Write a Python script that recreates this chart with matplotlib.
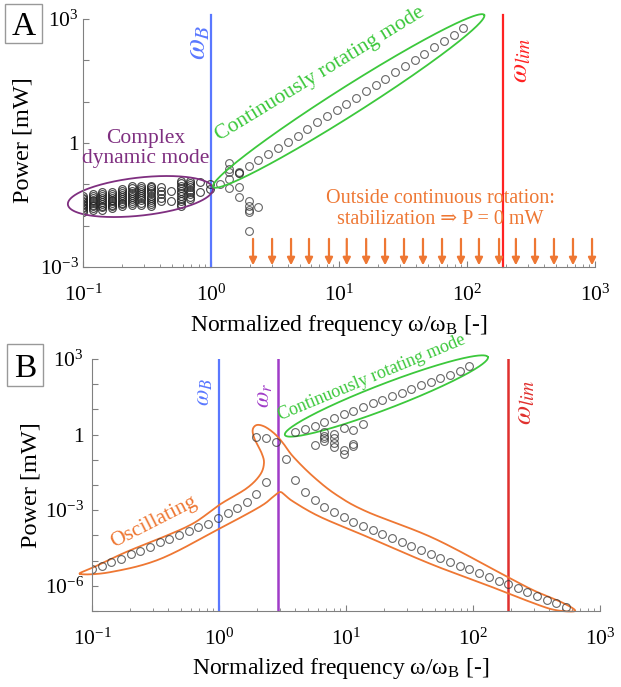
import numpy as np
import matplotlib
matplotlib.use('Agg')
import matplotlib.pyplot as plt
from matplotlib.patches import Rectangle
from matplotlib.ticker import FixedLocator, FuncFormatter, LogLocator, NullLocator, NullFormatter

plt.rcParams['font.family'] = ['Liberation Serif', 'DejaVu Serif']
plt.rcParams['mathtext.fontset'] = 'stix'

# frequency grid omega/omega_B (log spaced)
freq = [0.100, 0.119, 0.142, 0.169, 0.202, 0.240, 0.286, 0.341, 0.407, 0.485,
        0.578, 0.689, 0.821, 0.979, 1.17, 1.39, 1.66, 1.97, 2.35, 2.81,
        3.34, 3.98, 4.75, 5.66, 6.74, 8.04, 9.58, 11.4, 13.6, 16.2,
        19.3, 23.0, 27.4, 32.7, 39.0, 46.4, 55.4, 65.9, 78.6, 93.7,
        112, 133, 159, 189, 225, 268, 320, 381, 454, 542]

w_B = 1.0
w_r = 2.9
w_lim = 190.0

# ---- panel A : log10(P [mW]) ----
# complex dynamic mode, one list per frequency (index 0..13)
logp_complex = [
    [-1.68, -1.63, -1.58, -1.55, -1.50, -1.47, -1.43, -1.40, -1.36, -1.33, -1.29],
    [-1.61, -1.57, -1.52, -1.49, -1.45, -1.41, -1.37, -1.33, -1.28, -1.23],
    [-1.61, -1.56, -1.52, -1.47, -1.43, -1.38, -1.33, -1.29, -1.24, -1.19],
    [-1.57, -1.53, -1.49, -1.45, -1.41, -1.37, -1.32, -1.28, -1.24, -1.19],
    [-1.53, -1.48, -1.44, -1.40, -1.35, -1.30, -1.25, -1.21, -1.16, -1.11],
    [-1.49, -1.45, -1.40, -1.35, -1.31, -1.26, -1.21, -1.16, -1.10, -1.05],
    [-1.49, -1.44, -1.39, -1.34, -1.29, -1.24, -1.19, -1.14, -1.08, -1.03],
    [-1.53, -1.48, -1.43, -1.38, -1.33, -1.28, -1.22, -1.17, -1.12, -1.07, -1.03],
    [-1.41, -1.33, -1.24, -1.15, -1.06],
    [-1.40, -1.15],
    [-1.53, -1.47, -1.41, -1.35, -1.29, -1.22, -1.16, -1.10, -1.03, -0.97, -0.91],
    [-1.35, -1.30, -1.24, -1.19, -1.13, -1.07, -1.01, -0.96, -0.91],
    [-1.18, -0.94],
    [-1.12, -0.98],
]
# continuously rotating mode, frequencies 14..39
logp_rot_a = [-1.00, -0.88, -0.72, -0.55, -0.41, -0.27, -0.13, 0.02, 0.17, 0.33,
              0.50, 0.65, 0.80, 0.95, 1.10, 1.25, 1.40, 1.56, 1.71, 1.86,
              2.01, 2.16, 2.32, 2.47, 2.62, 2.78]
# transition points just above omega_B (frequency index, log10 P)
scatter_a_idx = [15, 15, 15, 15, 16, 16, 16, 16, 17, 17, 17, 17, 17, 18]
scatter_a_logp = [-0.49, -0.64, -0.69, -1.10, -0.69, -0.73, -1.06, -1.30,
                  -1.40, -1.52, -1.62, -1.66, -2.12, -1.54]
# P = 0 arrows (outside continuous rotation)
arrow_freq = [2.13, 3.00, 4.22, 5.83, 8.35, 11.5, 16.3, 22.9, 32.2, 45.3,
              63.8, 89.7, 124, 178, 241, 340, 478, 673, 948]

# ---- panel B ----
osc_idx = list(range(0, 19)) + [17, 18, 19] + list(range(20, 50))
logp_osc = [-5.35, -5.21, -5.07, -4.94, -4.75, -4.61, -4.45, -4.27, -4.14, -3.98,
            -3.84, -3.68, -3.55, -3.32, -3.12, -2.90, -2.66, -2.36, -1.89,
            -0.08, -0.12, -0.31,
            -0.98, -1.80, -2.27, -2.60, -2.86, -3.08, -3.26, -3.46, -3.63, -3.79,
            -3.96, -4.12, -4.27, -4.42, -4.58, -4.74, -4.89, -5.04, -5.20, -5.33,
            -5.48, -5.64, -5.80, -5.94, -6.10, -6.26, -6.39, -6.56, -6.69, -6.85]
# continuously rotating mode, frequencies 21..39
logp_rot_b = [0.09, 0.22, 0.35, 0.51, 0.64, 0.81, 0.95, 1.08, 1.24, 1.37,
              1.52, 1.66, 1.81, 1.96, 2.10, 2.23, 2.37, 2.53, 2.71]
scatter_b_idx = [23, 24, 24, 24, 24, 25, 25, 25, 25, 26, 26, 26, 27, 27, 27, 28]
scatter_b_logp = [-0.41, 0.10, -0.04, -0.15, -0.25, 0.03, -0.12, -0.33, -0.48,
                  0.25, -0.62, -0.75, 0.20, -0.38, -0.44, 0.41]

# outline of the oscillating region (log10 omega, log10 P)
osc_outline_lx = [-1.094, -0.990, -0.727, -0.465, -0.202, 0.008, 0.218, 0.323, 0.354, 0.336,
                  0.283, 0.265, 0.297, 0.362, 0.441, 0.506, 0.585, 0.743, 0.927, 1.165,
                  1.685, 2.213, 2.472, 2.709, 2.803, 2.646, 2.472, 2.213, 1.685, 1.165,
                  0.795, 0.585, 0.520, 0.480, 0.428, 0.323, 0.008, -0.465, -0.858]
osc_outline_ly = [-5.53, -5.27, -4.65, -4.12, -3.52, -2.77, -2.13, -1.60, -1.14, -0.74,
                  -0.21, 0.18, 0.38, 0.31, 0.02, -0.35, -0.88, -1.67, -2.40, -3.06,
                  -4.10, -5.49, -6.17, -6.68, -7.00, -6.96, -6.68, -6.17, -5.17, -4.05,
                  -3.26, -2.66, -2.40, -2.28, -2.46, -2.86, -3.72, -4.94, -5.46]

BLUE = '#5a78ff'
RED = '#ff2222'
RED_B = '#e0302e'
PURPLE = '#7f2f80'
VIOLET = '#a03cc8'
GREEN = '#3cc83c'
ORANGE = '#ee7733'
GRAY = '#808080'
MK = dict(ls='none', marker='o', mfc='none', mec='#333333', ms=5.6, mew=0.8, alpha=0.75)

freq = np.array(freq)


def ring(ax, fx, fy, a, b, ang, **kw):
    # ellipse sized in pixels, centred on a data point
    t = np.linspace(0, 2 * np.pi, 300)
    c = np.deg2rad(ang)
    cx, cy = ax.transData.transform((fx, fy))
    dx = a * np.cos(t) * np.cos(c) - b * np.sin(t) * np.sin(c)
    dy = a * np.cos(t) * np.sin(c) + b * np.sin(t) * np.cos(c)
    pts = ax.transData.inverted().transform(np.column_stack([cx + dx, cy + dy]))
    ax.plot(pts[:, 0], pts[:, 1], clip_on=False, **kw)


def closed_spline(lx, ly, n=16):
    P = np.column_stack([lx, ly])
    N = len(P)
    t = np.linspace(0, 1, n, endpoint=False)[:, None]
    out = []
    for i in range(N):
        p0, p1, p2, p3 = P[i - 1], P[i], P[(i + 1) % N], P[(i + 2) % N]
        out.append(0.5 * (2 * p1 + (p2 - p0) * t + (2 * p0 - 5 * p1 + 4 * p2 - p3) * t ** 2
                          + (3 * p1 - p0 - 3 * p2 + p3) * t ** 3))
    out.append(P[:1])
    return np.vstack(out)


def style(ax, ylim, ypad):
    ax.set_xscale('log')
    ax.set_yscale('log')
    ax.set_xlim(0.1, 1000)
    ax.set_ylim(*ylim)
    for s in ('top', 'right'):
        ax.spines[s].set_visible(False)
    for s in ('left', 'bottom'):
        ax.spines[s].set_color(GRAY)
    ax.xaxis.set_major_locator(LogLocator(base=10, numticks=10))
    ax.xaxis.set_minor_locator(LogLocator(base=10, subs=np.arange(2, 10), numticks=20))
    ax.xaxis.set_minor_formatter(NullFormatter())
    lo, hi = int(np.log10(ylim[0])), int(np.log10(ylim[1]))
    ax.yaxis.set_major_locator(FixedLocator(10.0 ** np.arange(lo, hi + 1)))
    ax.yaxis.set_minor_locator(NullLocator())

    def ylab(v, pos):
        e = int(round(np.log10(v)))
        if e % 3:
            return ''
        return '1' if e == 0 else r'$\mathdefault{10^{%d}}$' % e
    ax.yaxis.set_major_formatter(FuncFormatter(ylab))
    ax.tick_params(which='both', direction='in', color=GRAY, labelsize=15.5)
    ax.tick_params(axis='x', which='major', length=4, pad=13)
    ax.tick_params(axis='x', which='minor', length=2.5)
    ax.tick_params(axis='y', which='major', length=4, pad=ypad)
    ax.set_xlabel('Normalized frequency ω/ω$_\\mathregular{B}$ [-]', fontsize=17)
    ax.set_ylabel('Power [mW]', fontsize=17.5)
    ax.xaxis.label.set_verticalalignment('center')
    ax.yaxis.label.set_verticalalignment('center')


fig = plt.figure(figsize=(6.21, 6.87), dpi=100)
axA = fig.add_axes([83 / 621, 1 - 267 / 687, 512 / 621, 248 / 687])
axB = fig.add_axes([92 / 621, 1 - 611 / 687, 508 / 621, 252 / 687])

# ---------------- panel A ----------------
style(axA, (1e-3, 1e3), 3)
axA.xaxis.set_label_coords(0.5, -0.234)
axA.yaxis.set_label_coords(-0.117, 0.512)

axA.axvline(w_B, color=BLUE, lw=1.6, ymax=1.015, clip_on=False)
axA.axvline(w_lim, color=RED, lw=1.6, ymax=1.015, clip_on=False)

mk_dense = dict(MK, alpha=0.85, mec='#222222')
for k, col in enumerate(logp_complex):
    axA.plot(np.full(len(col), freq[k]), 10.0 ** np.array(col), **mk_dense)
axA.plot(freq[14:40], 10.0 ** np.array(logp_rot_a), **MK)
axA.plot(freq[scatter_a_idx], 10.0 ** np.array(scatter_a_logp), **MK)

for f in arrow_freq:
    axA.annotate('', xy=(f, 10 ** -2.96), xytext=(f, 10 ** -2.32),
                 arrowprops=dict(arrowstyle='-|>', color=ORANGE, lw=1.6,
                                 mutation_scale=11, shrinkA=0, shrinkB=0))

ring(axA, 0.281, 0.0507, 73, 19, 6.3, color=PURPLE, lw=1.3)
ring(axA, 11.9, 10.4, 160.5, 14, 32.4, color=GREEN, lw=1.3)

axA.text(0.79, 270, r'$\omega_B$', color=BLUE, fontsize=22, rotation=90,
         ha='center', va='center')
axA.text(264, 102, r'$\omega_{lim}$', color=RED, fontsize=20, rotation=90,
         ha='center', va='center')
axA.text(0.31, 0.74, 'Complex\ndynamic mode', color=PURPLE, fontsize=15.5,
         ha='center', va='center', linespacing=1.05)
axA.text(7.11, 46.7, 'Continuously rotating mode', color=GREEN, fontsize=15.5,
         rotation=31.4, rotation_mode='anchor', ha='center', va='center')
axA.text(61.5, 0.0253, 'Outside continuous rotation:\nstabilization ⇒ P = 0 mW',
         color=ORANGE, fontsize=14.5, ha='center', va='center', linespacing=1.1)

# ---------------- panel B ----------------
style(axB, (1e-7, 1e3), 6)
axB.xaxis.set_label_coords(0.49, -0.23)
axB.yaxis.set_label_coords(-0.12, 0.5)

axB.axvline(w_B, color=BLUE, lw=1.6)
axB.axvline(w_r, color=VIOLET, lw=1.8)
axB.axvline(w_lim, color=RED_B, lw=1.8)

outline = closed_spline(osc_outline_lx, osc_outline_ly)
axB.plot(10.0 ** outline[:, 0], 10.0 ** outline[:, 1], color=ORANGE, lw=1.3, clip_on=False)
ring(axB, 20.8, 34.0, 108.7, 12.5, 21.0, color=GREEN, lw=1.3)

axB.plot(freq[osc_idx], 10.0 ** np.array(logp_osc), **MK)
axB.plot(freq[21:40], 10.0 ** np.array(logp_rot_b), **MK)
axB.plot(freq[scatter_b_idx], 10.0 ** np.array(scatter_b_logp), **MK)

axB.text(0.767, 49, r'$\omega_B$', color=BLUE, fontsize=17, rotation=90,
         ha='center', va='center')
axB.text(2.30, 37, r'$\omega_r$', color=VIOLET, fontsize=17, rotation=90,
         ha='center', va='center')
axB.text(254, 19.7, r'$\omega_{lim}$', color=RED_B, fontsize=20, rotation=90,
         ha='center', va='center')
axB.text(15.9, 176, 'Continuously rotating mode', color=GREEN, fontsize=13,
         rotation=22.5, rotation_mode='anchor', ha='center', va='center')
axB.text(0.305, 3.4e-4, 'Oscillating', color=ORANGE, fontsize=15.5,
         rotation=27, rotation_mode='anchor', ha='center', va='center')

# panel letters in boxes
for (x0, y0, x1, y1), letter in (((5, 4, 42, 43), 'A'), ((7, 344, 43, 386), 'B')):
    fig.patches.append(Rectangle((x0 / 621, 1 - y1 / 687), (x1 - x0) / 621, (y1 - y0) / 687,
                                 transform=fig.transFigure, fc='white', ec='#999999', lw=1))
    fig.text((x0 + x1) / 2 / 621, 1 - (y0 + y1) / 2 / 687, letter, fontsize=24,
             ha='center', va='center_baseline')

fig.savefig('out.png', dpi=100)
